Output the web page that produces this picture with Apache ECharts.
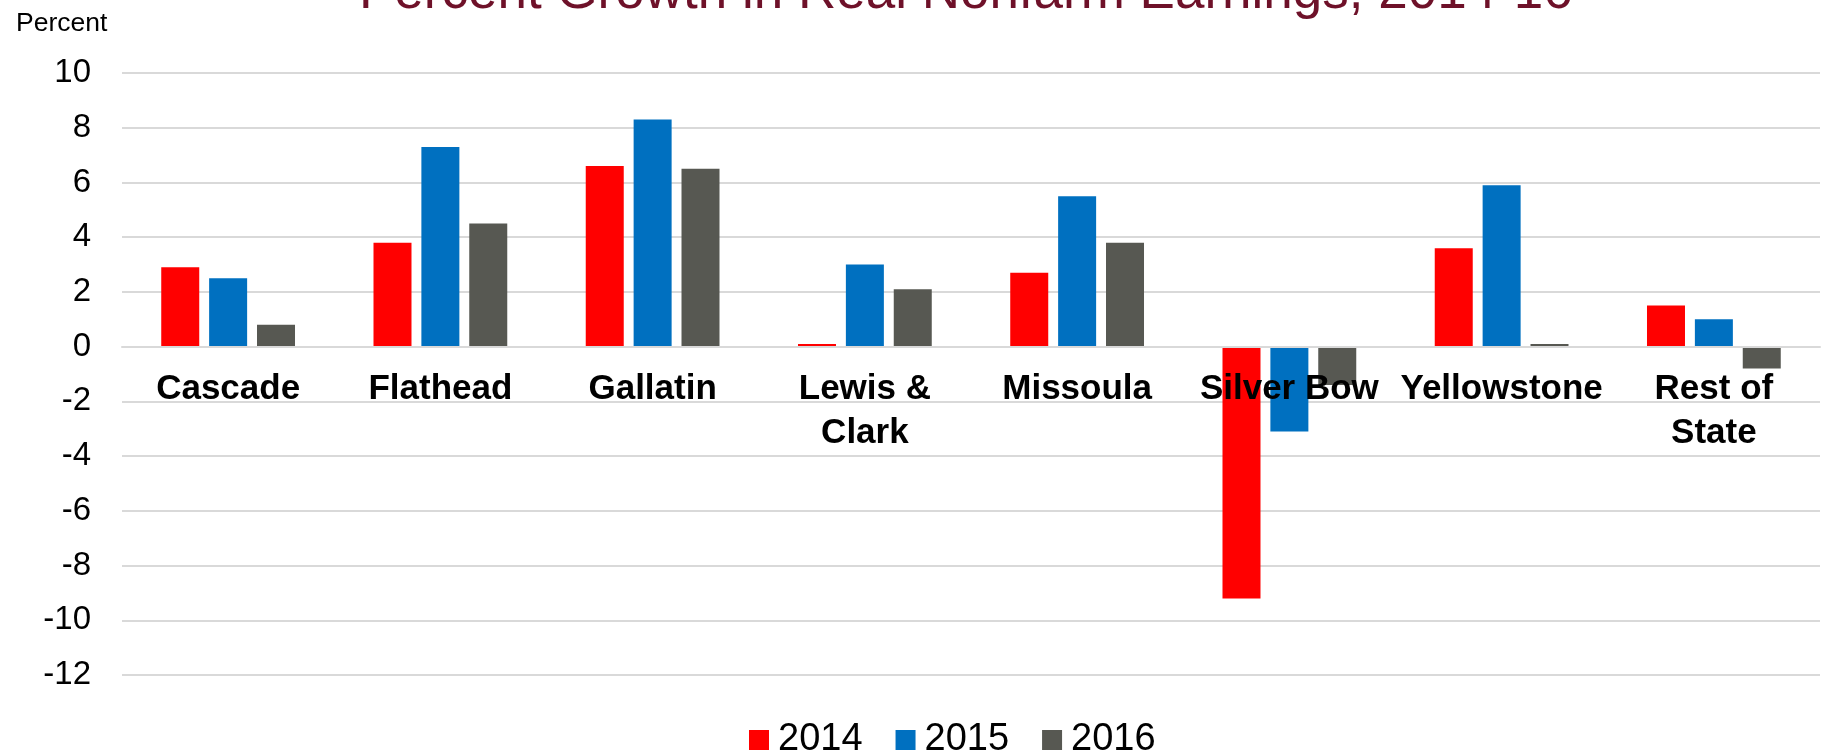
<!DOCTYPE html>
<html>
<head>
<meta charset="utf-8">
<script src="https://cdn.jsdelivr.net/npm/echarts@6/dist/echarts.min.js"></script>
<style>
  html, body { margin: 0; padding: 0; background: #fff; }
  #chart { width: 1841px; height: 750px; }
</style>
</head>
<body>
<div id="chart"></div>
<script>
const counties = ['Cascade', 'Flathead', 'Gallatin', 'Lewis &\nClark', 'Missoula', 'Silver Bow', 'Yellowstone', 'Rest of\nState'];
const years = ['2014', '2015', '2016'];
const growth2014 = [2.9, 3.8, 6.6, 0.1, 2.7, -9.2, 3.6, 1.5];
const growth2015 = [2.5, 7.3, 8.3, 3.0, 5.5, -3.1, 5.9, 1.0];
const growth2016 = [0.8, 4.5, 6.5, 2.1, 3.8, -1.4, 0.1, -0.8];
const yMin = -12;
const yMax = 10;
const yStep = 2;

const font = 'Liberation Sans, Arial, Helvetica, sans-serif';
const colors = ['#FF0000', '#0070C0', '#575852'];

const gridTop = 73;
const gridBottom = 75;
const gridHeight = 750 - gridTop - gridBottom;
// move the category axis up to the zero line
const zeroOffset = -gridHeight * (0 - yMin) / (yMax - yMin);

const chart = echarts.init(document.getElementById('chart'));

const barStyle = {
  type: 'bar',
  barWidth: 38,
  barGap: '26%',
};

chart.setOption({
  animation: false,
  color: colors,
  title: [
    {
      text: 'Percent Growth in Real Nonfarm Earnings, 2014-16',
      left: 354,
      top: -38,
      textStyle: { color: '#6E1129', fontSize: 53, fontWeight: 'normal', fontFamily: font },
    },
    {
      text: 'Percent',
      left: 11,
      top: 5,
      textStyle: { color: '#000', fontSize: 26.5, fontWeight: 'normal', fontFamily: font },
    },
  ],
  legend: {
    data: years,
    left: 744,
    top: 715,
    itemWidth: 20,
    itemHeight: 20,
    itemGap: 33,
    icon: 'rect',
    textStyle: { color: '#000', fontSize: 38, fontFamily: font, lineHeight: 40, padding: [0, 0, 0, 4] },
  },
  grid: {
    left: 122,
    right: 21,
    top: gridTop,
    bottom: gridBottom,
    outerBoundsMode: 'none',
    containLabel: false,
  },
  xAxis: {
    type: 'category',
    data: counties,
    z: 5,
    offset: zeroOffset,
    axisLine: { onZero: false, lineStyle: { color: '#D9D9D9', width: 2 } },
    axisTick: { show: false },
    axisLabel: {
      interval: 0,
      margin: 21,
      color: '#000',
      fontSize: 35,
      fontWeight: 'bold',
      fontFamily: font,
      lineHeight: 44,
    },
  },
  yAxis: {
    type: 'value',
    min: yMin,
    max: yMax,
    interval: yStep,
    axisLine: { show: false },
    axisTick: { show: false },
    axisLabel: { color: '#000', fontSize: 33, fontFamily: font, margin: 31 },
    splitLine: { lineStyle: { color: '#D9D9D9', width: 2 } },
  },
  series: [
    Object.assign({ name: years[0], data: growth2014 }, barStyle),
    Object.assign({ name: years[1], data: growth2015 }, barStyle),
    Object.assign({ name: years[2], data: growth2016 }, barStyle),
  ],
});
</script>
</body>
</html>
